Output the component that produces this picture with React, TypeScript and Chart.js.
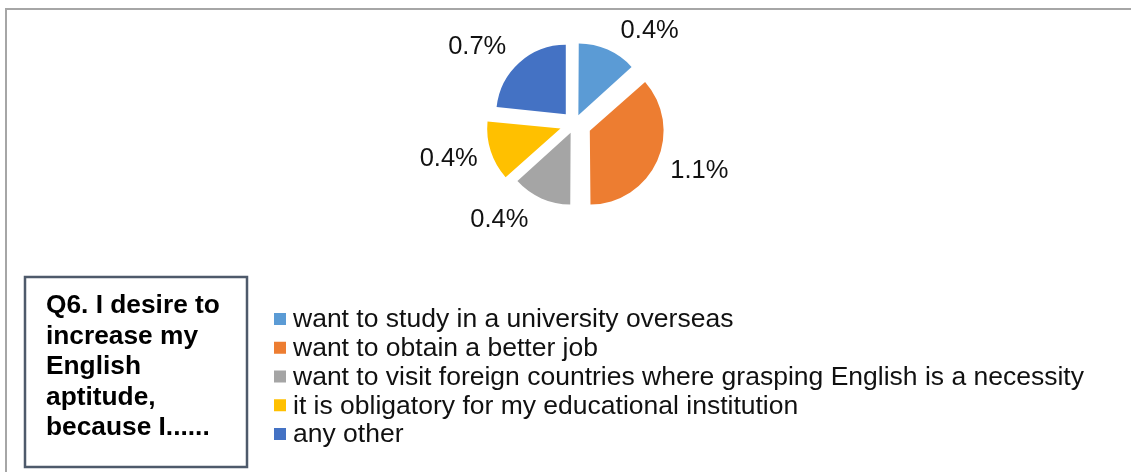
import React, { useEffect, useRef } from 'react';
import { Chart, registerables } from 'chart.js';

Chart.register(...registerables);

const categories = [
  'want to study in a university overseas',
  'want to obtain a better job',
  'want to visit foreign countries where grasping English is a necessity',
  'it is obligatory for my educational institution',
  'any other',
];
const percentValues = [0.4, 1.1, 0.4, 0.4, 0.7];
const sliceColors = ['#5B9BD5', '#ED7D31', '#A5A5A5', '#FFC000', '#4472C4'];
const titleLines = ['Q6. I desire to', 'increase my', 'English', 'aptitude,', 'because I......'];

// styling: explosion offset of each slice (Chart.js offset units)
const sliceExplode = [38, 67, 38, 59, 52];
const FONT = '"Liberation Sans", Arial, Helvetica, sans-serif';

const framePlugin = {
  id: 'frame',
  beforeDraw(chart: any) {
    const ctx = chart.ctx;
    ctx.save();
    ctx.fillStyle = '#ffffff';
    ctx.fillRect(0, 0, chart.width, chart.height);
    ctx.strokeStyle = '#A6A6A6';
    ctx.lineWidth = 2;
    ctx.beginPath();
    ctx.moveTo(6, chart.height + 5);
    ctx.lineTo(6, 9);
    ctx.lineTo(chart.width + 5, 9);
    ctx.stroke();
    ctx.restore();
  },
};

const labelPlugin = {
  id: 'sliceLabels',
  afterDatasetsDraw(chart: any) {
    const ctx = chart.ctx;
    const meta = chart.getDatasetMeta(0);
    ctx.save();
    ctx.font = `25.5px ${FONT}`;
    ctx.fillStyle = '#111111';
    ctx.textAlign = 'center';
    ctx.textBaseline = 'middle';
    meta.data.forEach((arc: any, i: number) => {
      const p = arc.getProps(['x', 'y', 'startAngle', 'endAngle', 'outerRadius', 'circumference'], true);
      const mid = (p.startAngle + p.endAngle) / 2;
      const off = (arc.options.offset || 0) / 4;
      const fix = 1 - Math.sin(Math.min(Math.PI, p.circumference || 0));
      const t = off * (1 + fix);
      const dx = Math.cos(mid);
      const dy = Math.sin(mid);
      const vx = p.x + dx * t;
      const vy = p.y + dy * t;
      const text = chart.data.datasets[0].data[i].toFixed(1) + '%';
      const w = ctx.measureText(text).width;
      const cx = vx + dx * p.outerRadius + Math.sign(dx) * (w / 2 + 13);
      const cy = vy + dy * p.outerRadius + dy * 22 + 1;
      ctx.fillText(text, cx, cy);
    });
    ctx.restore();
  },
};

// legend laid out one entry per row, beside the question box
const legendPlugin = {
  id: 'rowLegend',
  afterDraw(chart: any) {
    const ctx = chart.ctx;
    const labels: string[] = chart.data.labels;
    const colors: string[] = chart.data.datasets[0].backgroundColor;
    ctx.save();
    ctx.font = `26.5px ${FONT}`;
    ctx.textAlign = 'left';
    ctx.textBaseline = 'middle';
    labels.forEach((label, i) => {
      const cy = 319 + i * 28.75;
      ctx.fillStyle = colors[i];
      ctx.fillRect(274, cy - 6, 12, 12);
      ctx.fillStyle = '#111111';
      ctx.fillText(label, 293, cy + 1);
    });
    ctx.restore();
  },
};

const titleBoxPlugin = {
  id: 'titleBox',
  afterDraw(chart: any) {
    const ctx = chart.ctx;
    ctx.save();
    ctx.strokeStyle = '#4E5A6B';
    ctx.lineWidth = 2.5;
    ctx.strokeRect(25, 277, 222, 190);
    ctx.fillStyle = '#000000';
    ctx.font = `bold 26.3px ${FONT}`;
    ctx.textAlign = 'left';
    ctx.textBaseline = 'middle';
    titleLines.forEach((line, i) => {
      ctx.fillText(line, 46, 306 + i * 30.5);
    });
    ctx.restore();
  },
};

export default function App() {
  const ref = useRef<HTMLCanvasElement>(null);
  useEffect(() => {
    const chart = new Chart(ref.current as HTMLCanvasElement, {
      type: 'pie',
      data: {
        labels: categories,
        datasets: [
          {
            data: percentValues,
            backgroundColor: sliceColors,
            borderWidth: 0,
            offset: sliceExplode,
            radius: 69.5,
          } as any,
        ],
      },
      options: {
        responsive: false,
        animation: false,
        layout: { padding: { left: 18, right: 0, top: 0, bottom: 224 } },
        plugins: {
          legend: { display: false },
          tooltip: { enabled: false },
        },
      } as any,
      plugins: [framePlugin, labelPlugin, legendPlugin, titleBoxPlugin],
    });
    return () => chart.destroy();
  }, []);
  return (
    <div style={{ position: 'fixed', left: 0, top: 0, width: 1131, height: 472, background: '#fff' }}>
      <canvas ref={ref} width={1131} height={472} style={{ display: 'block' }} />
    </div>
  );
}
